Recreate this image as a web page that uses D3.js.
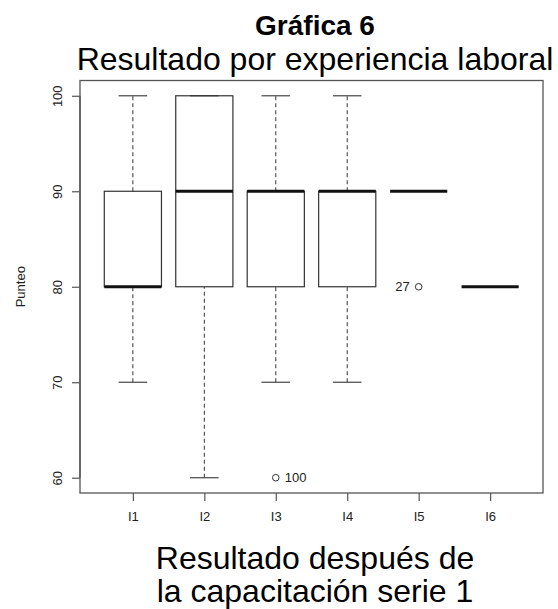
<!DOCTYPE html>
<html>
<head>
<meta charset="utf-8">
<script src="https://cdn.jsdelivr.net/npm/d3@7"></script>
<style>
  body { margin: 0; background: #fff; }
  text { font-family: "Liberation Sans", Arial, sans-serif; }
</style>
</head>
<body>
<svg id="chart" width="558" height="609"></svg>
<script>
// data
var categories = ["I1", "I2", "I3", "I4", "I5", "I6"];
var lowWhisker = [70, 60, 70, 70, 90, 80];
var q1 = [80, 80, 80, 80, 90, 80];
var medians = [80, 90, 90, 90, 90, 80];
var q3 = [90, 100, 90, 90, 90, 80];
var highWhisker = [100, 100, 100, 100, 90, 80];
var outliers = [[], [], [60], [], [80], []];
var outlierLabels = [[], [], ["100"], [], ["27"], []];
var outlierSide = [[], [], ["right"], [], ["left"], []];
var yTicks = [60, 70, 80, 90, 100];

var svg = d3.select("#chart"),
    margin = {top: 80.5, right: 15, bottom: 116, left: 80},
    width = +svg.attr("width") - margin.left - margin.right,
    height = +svg.attr("height") - margin.top - margin.bottom,
    g = svg.append("g").attr("transform", "translate(" + margin.left + "," + margin.top + ")");

// R-style ranges (4% extension)
var x = d3.scaleLinear().domain([0.26, categories.length + 0.74]).range([0, width]);
var y = d3.scaleLinear().domain([58.4, 101.6]).range([height, 0]);

var unit = x(2) - x(1),
    boxW = unit * 0.8,
    capW = unit * 0.4;

var lineCol = "#333";

// boxes
categories.forEach(function(c, i) {
  var cx = x(i + 1);
  var bg = g.append("g");

  // dashed whiskers
  bg.append("line")
      .attr("x1", cx).attr("x2", cx)
      .attr("y1", y(lowWhisker[i])).attr("y2", y(q1[i]))
      .attr("stroke", lineCol).attr("stroke-width", 1).attr("stroke-dasharray", "4,3");
  bg.append("line")
      .attr("x1", cx).attr("x2", cx)
      .attr("y1", y(q3[i])).attr("y2", y(highWhisker[i]))
      .attr("stroke", lineCol).attr("stroke-width", 1).attr("stroke-dasharray", "4,3");

  // caps
  [lowWhisker[i], highWhisker[i]].forEach(function(v) {
    bg.append("line")
        .attr("x1", cx - capW / 2).attr("x2", cx + capW / 2)
        .attr("y1", y(v)).attr("y2", y(v))
        .attr("stroke", "#444").attr("stroke-width", 1.2);
  });

  // box
  bg.append("rect")
      .attr("x", cx - boxW / 2)
      .attr("y", y(q3[i]))
      .attr("width", boxW)
      .attr("height", y(q1[i]) - y(q3[i]))
      .attr("fill", "none")
      .attr("stroke", lineCol).attr("stroke-width", 1.2);

  // median
  bg.append("line")
      .attr("x1", cx - boxW / 2).attr("x2", cx + boxW / 2)
      .attr("y1", y(medians[i])).attr("y2", y(medians[i]))
      .attr("stroke", "#111").attr("stroke-width", 3);

  // outliers
  outliers[i].forEach(function(v, k) {
    bg.append("circle")
        .attr("cx", cx).attr("cy", y(v)).attr("r", 3.3)
        .attr("fill", "none").attr("stroke", lineCol).attr("stroke-width", 1);
    var right = outlierSide[i][k] === "right";
    bg.append("text")
        .attr("x", right ? cx + 9 : cx - 9)
        .attr("y", y(v))
        .attr("dy", "0.35em")
        .attr("text-anchor", right ? "start" : "end")
        .attr("font-size", 13)
        .attr("fill", "#222")
        .text(outlierLabels[i][k]);
  });
});

// frame
g.append("rect")
    .attr("width", width).attr("height", height)
    .attr("fill", "none").attr("stroke", "#555").attr("stroke-width", 1.3);

// axes
var xAxis = d3.axisBottom(x)
    .tickValues(d3.range(1, categories.length + 1))
    .tickFormat(function(d) { return categories[d - 1]; })
    .tickSize(8).tickSizeOuter(0);

var yAxis = d3.axisLeft(y)
    .tickValues(yTicks)
    .tickSize(8);

g.append("g")
    .attr("transform", "translate(0," + height + ")")
    .call(customXAxis);

g.append("g")
    .call(customYAxis);

function customXAxis(a) {
  a.call(xAxis);
  a.select(".domain").remove();
  a.selectAll(".tick line").attr("stroke", "#555").attr("stroke-width", 1.2);
  a.selectAll(".tick text").attr("y", 19).attr("fill", "#222").attr("font-size", 13)
      .attr("font-family", "Liberation Sans, Arial, sans-serif");
}

function customYAxis(a) {
  a.call(yAxis);
  a.select(".domain").remove();
  a.append("line")
      .attr("x1", 0).attr("x2", 0)
      .attr("y1", y(yTicks[0])).attr("y2", y(yTicks[yTicks.length - 1]))
      .attr("stroke", "#555").attr("stroke-width", 1.3);
  a.selectAll(".tick line").attr("stroke", "#555").attr("stroke-width", 1.2);
  a.selectAll(".tick text")
      .attr("transform", "rotate(-90)")
      .attr("x", 0).attr("y", -18).attr("dy", 0)
      .attr("fill", "#222").attr("font-size", 13)
      .attr("font-family", "Liberation Sans, Arial, sans-serif")
      .style("text-anchor", "middle");
}

// y label
svg.append("text")
    .attr("transform", "translate(25," + (margin.top + y(80)) + ") rotate(-90)")
    .attr("text-anchor", "middle")
    .attr("font-size", 13)
    .attr("fill", "#222")
    .text("Punteo");

// titles
var cxTitle = 315;
svg.append("text")
    .attr("x", cxTitle).attr("y", 35)
    .attr("text-anchor", "middle")
    .attr("font-size", 28).attr("font-weight", "bold")
    .text("Gráfica 6");
svg.append("text")
    .attr("x", cxTitle).attr("y", 70)
    .attr("text-anchor", "middle")
    .attr("font-size", 32)
    .text("Resultado por experiencia laboral");

svg.append("text")
    .attr("x", cxTitle).attr("y", 569)
    .attr("text-anchor", "middle")
    .attr("font-size", 32)
    .text("Resultado después de");
svg.append("text")
    .attr("x", cxTitle).attr("y", 602)
    .attr("text-anchor", "middle")
    .attr("font-size", 32)
    .text("la capacitación serie 1");
</script>
</body>
</html>
